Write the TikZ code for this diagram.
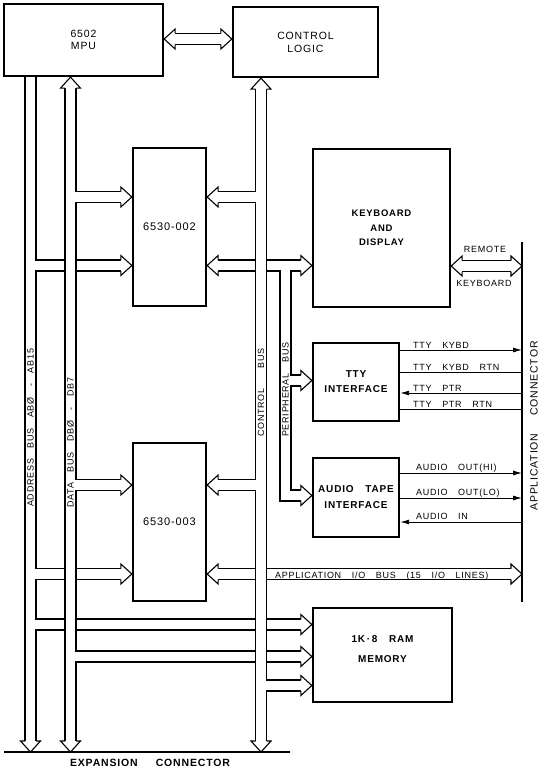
\documentclass[tikz,border=0pt]{standalone}
\usepackage{fontspec}
\setmainfont{Liberation Sans}[LetterSpace=8, WordSpace=3.3]
\usetikzlibrary{arrows.meta}

\tikzset{
  box/.style={draw, line width=2.3pt, inner sep=0pt, align=center},
  bus/.style={draw, line width=1.1pt, double=white, double distance=9.9pt, line join=miter},
  headline/.style={line width=1.1pt, line join=miter},
  conn/.style={line width=2.6pt},
  sig/.style={line width=0.9pt},
  sigtip/.style={-{Latex[length=9pt, width=5pt]}},
  siglbl/.style={anchor=base west, inner sep=0pt, font=\fontsize{9}{10}\selectfont},
  buslbl/.style={rotate=90, anchor=west, inner sep=0pt, font=\fontsize{9}{10}\selectfont},
  plaintxt/.style={font=\fontsize{10.5}{#1}\selectfont},
  boldtxt/.style={font=\fontsize{10}{#1}\selectfont\bfseries},
}

% outlined bus arrow head: tip at #1, direction #2
\newcommand\bushead[2]{%
  \begin{scope}[shift={#1}, rotate=#2]
    \fill[white] (0,0) -- (-11,10) -- (-11,-10) -- cycle;
    \draw[headline] (-11,5.5) -- (-11,10) -- (0,0) -- (-11,-10) -- (-11,-5.5);
  \end{scope}}

\begin{document}
\begin{tikzpicture}[x=1pt, y=-1pt]
  \useasboundingbox (0,0) rectangle (544,770);

  % --- blocks ---
  \node[box, plaintxt=11.5, minimum width=159pt, minimum height=72pt] (mpu) at (83.5,40) {6502\\MPU};
  \node[box, plaintxt=13, minimum width=145pt, minimum height=70pt] (cl) at (305.5,42) {CONTROL\\LOGIC};
  \node[box, font=\fontsize{11}{12}\selectfont, minimum width=73pt, minimum height=158pt] (u2) at (169.5,227) {6530-002};
  \node[box, font=\fontsize{11}{12}\selectfont, minimum width=73pt, minimum height=158pt] (u3) at (169.5,522) {6530-003};
  \node[box, font=\fontsize{9.5}{14.5}\selectfont\bfseries, minimum width=137pt, minimum height=158pt] (kbd) at (381.5,228) {KEYBOARD\\AND\\DISPLAY};
  \node[box, boldtxt=15, minimum width=86pt, minimum height=78pt] (tty) at (356,382) {TTY\\INTERFACE};
  \node[box, boldtxt=16, minimum width=86pt, minimum height=79pt] (aud) at (356,497.5) {AUDIO TAPE\\INTERFACE};
  \node[box, boldtxt=20, text depth=12pt, minimum width=139pt, minimum height=94pt] (ram) at (382.5,655) {1K\,·\,8 RAM\\MEMORY};

  % --- connectors ---
  \coordinate (actop) at (522,242);
  \coordinate (acbot) at (522,602);
  \coordinate (ecl) at (4,752);
  \coordinate (ecr) at (290,752);
  \draw[conn] (actop) -- (acbot);
  \draw[conn] (ecl) -- (ecr);
  \node[rotate=90, inner sep=0pt, font=\fontsize{10.5}{12}\selectfont] (aclbl) at (534,426) {APPLICATION\hspace{18pt}CONNECTOR};
  \node[inner sep=0pt, font=\fontsize{10.5}{12}\selectfont\bfseries] (eclbl) at (150,763) {EXPANSION\hspace{18pt}CONNECTOR};

  % --- address bus, peripheral bus, application I/O bus (lowest) ---
  \draw[bus] (mpu.south -| 30.5,0) -- (30.5,741.5)
    (30.5,265.5) -- (122.5,265.5)
    (30.5,574) -- (122.5,574)
    (30.5,624.5) -- (302.5,624.5);
  \draw[bus] (217,265.5) -- (302.5,265.5)
    (285.5,265.5) -- (285.5,495.5) -- (302.5,495.5)
    (285.5,380.5) -- (302.5,380.5);
  \draw[bus] (217,574) -- (511.5,574);

  % --- data bus ---
  \draw[bus] (70.5,87) -- (70.5,741.5)
    (70.5,197) -- (122.5,197)
    (70.5,485) -- (122.5,485)
    (70.5,656.5) -- (302.5,656.5);

  % --- control bus (on top) ---
  \draw[bus] (261,88) -- (261,741.5)
    (261,197) -- (217,197)
    (261,485) -- (217,485)
    (261,685.5) -- (302.5,685.5);

  % --- MPU to control logic, remote keyboard ---
  \draw[bus] (174,39) -- (222,39);
  \draw[bus] (461,266) -- (511.5,266);

  % --- bus heads ---
  \bushead{(ecl -| 30.5,0)}{-90}
  \bushead{(ecl -| 70.5,0)}{-90}
  \bushead{(ecl -| 261,0)}{-90}
  \bushead{(mpu.south -| 70.5,0)}{90}
  \bushead{(cl.south -| 261,0)}{90}
  \bushead{(mpu.east |- 0,39)}{180}
  \bushead{(cl.west |- 0,39)}{0}
  \bushead{(u2.west |- 0,197)}{0}
  \bushead{(u2.west |- 0,265.5)}{0}
  \bushead{(u2.east |- 0,197)}{180}
  \bushead{(u2.east |- 0,265.5)}{180}
  \bushead{(u3.west |- 0,485)}{0}
  \bushead{(u3.west |- 0,574)}{0}
  \bushead{(u3.east |- 0,485)}{180}
  \bushead{(u3.east |- 0,574)}{180}
  \bushead{(kbd.west |- 0,265.5)}{0}
  \bushead{(kbd.east |- 0,266)}{180}
  \bushead{(actop |- 0,266)}{0}
  \bushead{(actop |- 0,574)}{0}
  \bushead{(tty.west |- 0,380.5)}{0}
  \bushead{(aud.west |- 0,495.5)}{0}
  \bushead{(ram.west |- 0,624.5)}{0}
  \bushead{(ram.west |- 0,656.5)}{0}
  \bushead{(ram.west |- 0,685.5)}{0}

  % --- bus labels ---
  \node[buslbl] (lab) at (30.5,507) {ADDRESS BUS ABØ - AB15};
  \node[buslbl] (ldb) at (70.5,508) {DATA BUS DBØ - DB7};
  \node[buslbl] (lcb) at (261,437) {CONTROL\hspace{20pt}BUS};
  \node[buslbl] (lpb) at (285.5,437) {PERIPHERAL BUS};
  \node[inner sep=0pt, anchor=base west, font=\fontsize{9}{10}\selectfont] (lio) at (275,578) {APPLICATION I/O BUS (15 I/O LINES)};
  \node[inner sep=0pt, font=\fontsize{9}{10}\selectfont] (lrem) at (485,249) {REMOTE};
  \node[inner sep=0pt, font=\fontsize{9}{10}\selectfont] (lrkb) at (484,283) {KEYBOARD};

  % --- TTY and audio lines ---
  \draw[sig, sigtip] (tty.east |- 0,350) -- (actop |- 0,350);
  \draw[sig] (tty.east |- 0,372) -- (actop |- 0,372);
  \draw[sig, sigtip] (actop |- 0,393) -- (tty.east |- 0,393);
  \draw[sig] (tty.east |- 0,409) -- (actop |- 0,409);
  \draw[sig, sigtip] (aud.east |- 0,473) -- (actop |- 0,473);
  \draw[sig, sigtip] (aud.east |- 0,498) -- (actop |- 0,498);
  \draw[sig, sigtip] (actop |- 0,522) -- (aud.east |- 0,522);
  \node[siglbl] (lt1) at (413,348) {TTY KYBD};
  \node[siglbl] (lt2) at (413,370) {TTY KYBD RTN};
  \node[siglbl] (lt3) at (413,391) {TTY PTR};
  \node[siglbl] (lt4) at (413,407) {TTY PTR RTN};
  \node[siglbl] (la1) at (416,470) {AUDIO OUT(HI)};
  \node[siglbl] (la2) at (416,495) {AUDIO OUT(LO)};
  \node[siglbl] (la3) at (416,519) {AUDIO IN};
\end{tikzpicture}
\end{document}
